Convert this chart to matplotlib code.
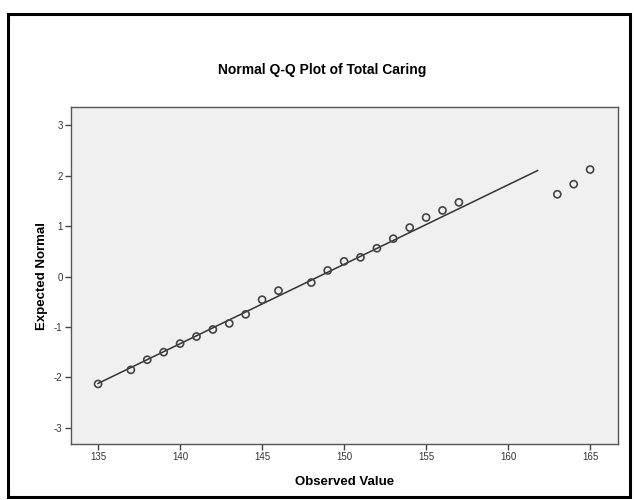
import numpy as np
import matplotlib.pyplot as plt
from matplotlib.patches import Rectangle

##### Data

observed = [135, 137, 138, 139, 140, 141, 142, 143, 144, 145, 146, 148, 149,
            150, 151, 152, 153, 154, 155, 156, 157, 163, 164, 165]
expected = [-2.13, -1.85, -1.65, -1.50, -1.33, -1.19, -1.05, -0.93, -0.75,
            -0.46, -0.28, -0.12, 0.12, 0.30, 0.38, 0.56, 0.75, 0.97, 1.17,
            1.31, 1.47, 1.63, 1.83, 2.12]

# reference line (normal with mean / sd)
line_mean = 148.46
line_sd = 6.35
line_x = [135, 161.8]

x_ticks = [135, 140, 145, 150, 155, 160, 165]
y_ticks = [-3, -2, -1, 0, 1, 2, 3]

plt.rcParams['font.family'] = ['Liberation Sans', 'DejaVu Sans']
plt.rcParams['axes.unicode_minus'] = False  # SPSS uses a plain hyphen

fig = plt.figure(figsize=(6.36, 5.0), dpi=100)
fig.patch.set_facecolor('white')

# outer frame of the SPSS chart
fig.patches.append(Rectangle((8 / 636, 3 / 500), 622 / 636, 483 / 500,
                             transform=fig.transFigure, fill=False,
                             edgecolor='black', linewidth=2.2))

ax = fig.add_axes([71 / 636, 1 - 444 / 500, 547 / 636, 337 / 500])
ax.set_facecolor('#f0f0f0')

lx = np.array(line_x)
ax.plot(lx, (lx - line_mean) / line_sd, color='#333333', linewidth=1.1)
ax.scatter(observed, expected, s=26, facecolors='none', edgecolors='#444444',
           linewidths=1.2, zorder=3)

ax.set_xlim(133.35, 166.7)
ax.set_ylim(-3.32, 3.36)
ax.set_xticks(x_ticks)
ax.set_yticks(y_ticks)
ax.tick_params(axis='both', direction='out', length=4, width=1,
               color='#444444', labelsize=7, labelcolor='#333333', pad=2)

for side in ['top', 'right', 'left', 'bottom']:
    ax.spines[side].set_color('#555555')
    ax.spines[side].set_linewidth(1.0)

ax.set_xlabel('Observed Value', fontsize=9.5, fontweight='bold', labelpad=10)
ax.set_ylabel('Expected Normal', fontsize=9.5, fontweight='bold', labelpad=4)

fig.text(0.506, 1 - 70 / 500, 'Normal Q-Q Plot of Total Caring',
         ha='center', va='center', fontsize=10, fontweight='bold')

plt.savefig('out.png', dpi=100)
plt.close()
